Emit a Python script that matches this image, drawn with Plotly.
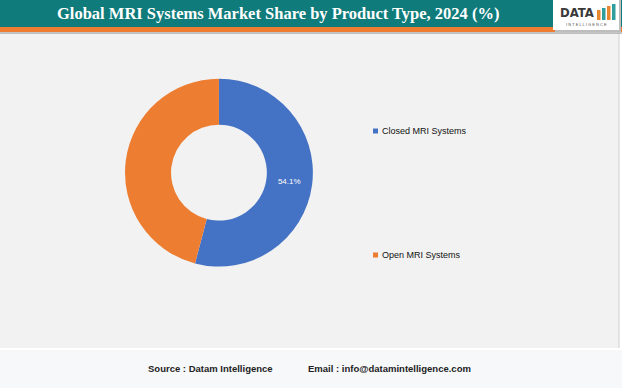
import plotly.graph_objects as go

categories = ["Closed MRI Systems", "Open MRI Systems"]
shares = [54.1, 45.9]
colors = ["#4472C4", "#ED7D31"]
title = "Global MRI Systems Market Share by Product Type, 2024 (%)"

W, H = 622, 388

fig = go.Figure()
fig.add_trace(go.Pie(
    labels=categories, values=shares, hole=0.51, sort=False, direction="clockwise",
    rotation=0, marker=dict(colors=colors),
    texttemplate=["%{value:.1f}%", ""], textposition="inside",
    insidetextfont=dict(color="white", size=8, family="Liberation Sans"),
    domain=dict(x=[0.201, 0.503], y=[0.312, 0.798]),
    showlegend=False, hoverinfo="label+percent",
))

def px(x):
    return x / W

def py(y):
    return 1 - y / H

shapes = [
    dict(type="rect", xref="paper", yref="paper", x0=0, x1=px(619), y0=py(348), y1=py(33),
         fillcolor="#F2F2F2", line=dict(width=0), layer="below"),
    dict(type="line", xref="paper", yref="paper", x0=px(619), x1=px(619), y0=py(348), y1=py(33),
         line=dict(color="#D0D0D0", width=1), layer="below"),
    dict(type="rect", xref="paper", yref="paper", x0=0, x1=1, y0=py(388), y1=py(350),
         fillcolor="#F7F8FA", line=dict(width=0), layer="below"),
    dict(type="rect", xref="paper", yref="paper", x0=0, x1=1, y0=py(27), y1=1,
         fillcolor="#0F7B7B", line=dict(width=0), layer="below"),
    dict(type="rect", xref="paper", yref="paper", x0=0, x1=1, y0=py(32), y1=py(27),
         fillcolor="#EE7D31", line=dict(width=0), layer="below"),
    dict(type="line", xref="paper", yref="paper", x0=0, x1=1, y0=py(33), y1=py(33),
         line=dict(color="#8A8A8A", width=1), layer="below"),
    dict(type="rect", xref="paper", yref="paper", x0=px(555), x1=px(621), y0=py(32), y1=1,
         fillcolor="#BDBDBD", line=dict(width=0), layer="below"),
    dict(type="rect", xref="paper", yref="paper", x0=px(553), x1=px(619), y0=py(30), y1=1,
         fillcolor="#FFFFFF", line=dict(width=0), layer="below"),
]

bar_cols = ["#E8872E", "#2E9E9E", "#E8872E", "#2E9E9E"]
bar_h = [10, 12, 14, 16]
for i, (c, h) in enumerate(zip(bar_cols, bar_h)):
    x0 = 597 + i * 5
    shapes.append(dict(type="rect", xref="paper", yref="paper", x0=px(x0), x1=px(x0 + 3.5),
                       y0=py(20), y1=py(20 - h), fillcolor=c, line=dict(width=0), layer="below"))

legend_y = [131, 255]
for c, y in zip(colors, legend_y):
    shapes.append(dict(type="rect", xref="paper", yref="paper", x0=px(373), x1=px(378),
                       y0=py(y + 2.5), y1=py(y - 2.5), fillcolor=c, line=dict(width=0)))

annotations = [
    dict(text="<b>" + title + "</b>", x=px(278), y=py(14), xref="paper", yref="paper",
         showarrow=False, font=dict(family="Liberation Serif", size=16.5, color="white"),
         xanchor="center", yanchor="middle"),
    dict(text="<b>DATA</b>", x=px(596), y=py(13), xref="paper", yref="paper", showarrow=False,
         font=dict(family="DejaVu Sans Condensed, Liberation Sans", size=13, color="#3A3A3A"),
         xanchor="right", yanchor="middle"),
    dict(text="I N T E L L I G E N C E", x=px(586), y=py(24), xref="paper", yref="paper",
         showarrow=False, font=dict(family="Liberation Sans", size=4, color="#555555"),
         xanchor="center", yanchor="middle"),
    dict(text="<b>Source : Datam Intelligence</b>", x=px(210), y=py(368), xref="paper", yref="paper",
         showarrow=False, font=dict(family="Liberation Sans Narrow, Liberation Sans", size=9.5, color="#222222"),
         xanchor="center", yanchor="middle"),
    dict(text="<b>Email : info@datamintelligence.com</b>", x=px(389), y=py(368), xref="paper", yref="paper",
         showarrow=False, font=dict(family="Liberation Sans Narrow, Liberation Sans", size=9.5, color="#222222"),
         xanchor="center", yanchor="middle"),
]
for cat, y in zip(categories, legend_y):
    annotations.append(dict(text=cat, x=px(380), y=py(y), xref="paper", yref="paper",
                            showarrow=False, font=dict(family="Liberation Sans Narrow, Liberation Sans", size=9, color="#111111"),
                            xanchor="left", yanchor="middle"))

fig.update_layout(
    width=W, height=H, margin=dict(l=0, r=0, t=0, b=0),
    paper_bgcolor="#FFFFFF", plot_bgcolor="#FFFFFF",
    shapes=shapes, annotations=annotations,
)

fig.write_html("out.html", config={"displayModeBar": False},
               post_script="document.body.style.margin='0';document.body.style.overflow='hidden';")
